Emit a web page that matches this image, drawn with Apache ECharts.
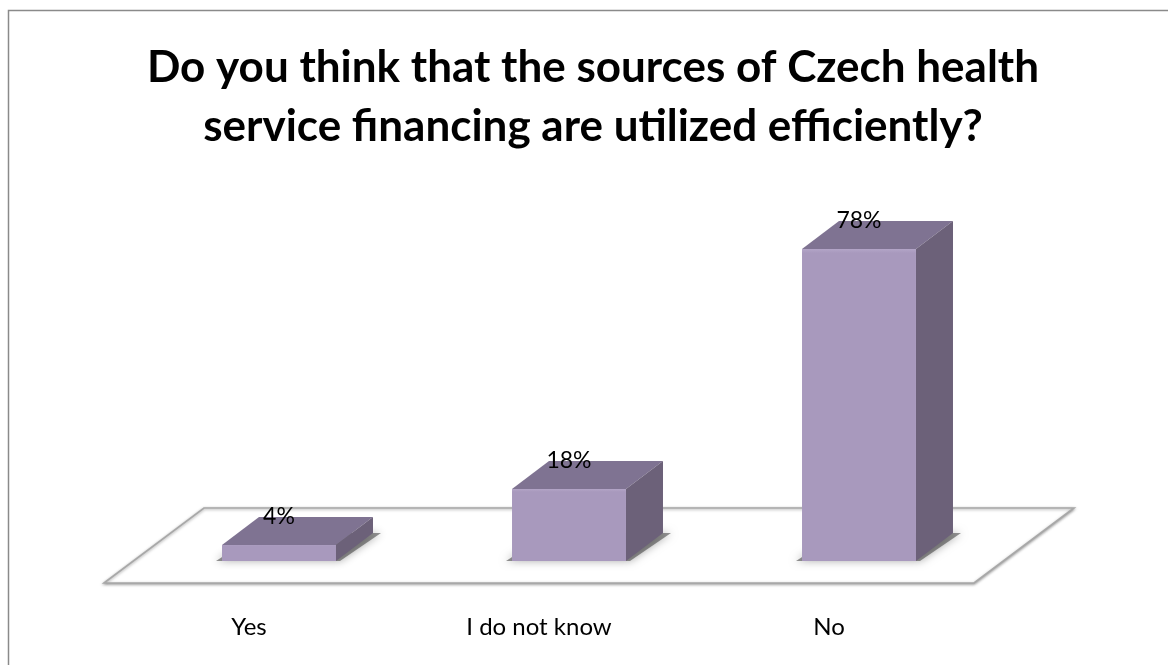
<!DOCTYPE html>
<html>
<head>
<meta charset="utf-8">
<style>
  html, body { margin: 0; padding: 0; background: #ffffff; }
  #chart { width: 1168px; height: 665px; }
</style>
<script src="https://cdn.jsdelivr.net/npm/echarts@6/dist/echarts.min.js"></script>
</head>
<body>
<div id="chart"></div>
<script>
// Survey answers and their shares (percent of respondents)
const categories = ['Yes', 'I do not know', 'No'];
const shares = [4, 18, 78];
const titleLines = [
  'Do you think that the sources of Czech health',
  'service financing are utilized efficiently?'
];

// Pseudo-3D projection: offset of the bar's back face and of the floor edges
const BAR_DEPTH = [37, -28];
const FLOOR_FRONT = [-30, 22];
const FLOOR_BACK = [70, -53];
const BAR_RATIO = 0.393;

const COLOR_FRONT = '#a899bd';
const COLOR_TOP = '#7f7392';
const COLOR_SIDE = '#6c6179';

const chart = echarts.init(document.getElementById('chart'), null, { renderer: 'canvas' });

function renderFloor(params, api) {
  const n = categories.length;
  const band = api.size([1, 0])[0];
  const left = api.coord([0, 0])[0] - band / 2;
  const right = api.coord([n - 1, 0])[0] + band / 2;
  const y0 = api.coord([0, 0])[1];
  const pts = [
    [left + FLOOR_FRONT[0], y0 + FLOOR_FRONT[1]],
    [right + FLOOR_FRONT[0], y0 + FLOOR_FRONT[1]],
    [right + FLOOR_BACK[0], y0 + FLOOR_BACK[1]],
    [left + FLOOR_BACK[0], y0 + FLOOR_BACK[1]]
  ];
  return {
    type: 'polygon',
    shape: { points: pts },
    style: {
      fill: '#ffffff',
      stroke: '#a8a8a8',
      lineWidth: 1.6,
      shadowBlur: 3,
      shadowColor: 'rgba(0,0,0,0.35)',
      shadowOffsetY: 1
    },
    silent: true
  };
}

function renderBar(params, api) {
  const idx = api.value(0);
  const val = api.value(1);
  const base = api.coord([idx, 0]);
  const top = api.coord([idx, val]);
  const w = api.size([1, 0])[0] * BAR_RATIO;
  const x0 = base[0] - w / 2;
  const x1 = base[0] + w / 2;
  const yb = base[1];
  const yt = top[1];
  const dx = BAR_DEPTH[0];
  const dy = BAR_DEPTH[1];

  const children = [];
  // soft contact shadow around the base
  children.push({
    type: 'polygon',
    shape: { points: [[x0 - 6, yb], [x1 + 4, yb], [x1 + dx + 8, yb + dy], [x0 + dx, yb + dy]] },
    style: { fill: 'rgba(60,60,60,0.55)', shadowBlur: 9, shadowColor: 'rgba(0,0,0,0.6)' },
    silent: true
  });
  // top face
  children.push({
    type: 'polygon',
    shape: { points: [[x0, yt], [x1, yt], [x1 + dx, yt + dy], [x0 + dx, yt + dy]] },
    style: { fill: COLOR_TOP }
  });
  // side face
  children.push({
    type: 'polygon',
    shape: { points: [[x1, yt], [x1 + dx, yt + dy], [x1 + dx, yb + dy], [x1, yb]] },
    style: { fill: COLOR_SIDE }
  });
  // front face
  children.push({
    type: 'rect',
    shape: { x: x0, y: yt, width: w, height: yb - yt },
    style: {
      fill: {
        type: 'linear', x: 0, y: 0, x2: 0, y2: 1,
        colorStops: [
          { offset: 0, color: '#b3a5c7' },
          { offset: Math.min(0.04, 4 / Math.max(yb - yt, 1)), color: COLOR_FRONT },
          { offset: 1, color: COLOR_FRONT }
        ]
      }
    }
  });
  // value label at the back edge of the top face
  children.push({
    type: 'text',
    style: {
      x: base[0],
      y: yt + dy,
      text: val + '%',
      fill: '#000000',
      font: '23px Lato, "Open Sans", sans-serif',
      align: 'center',
      verticalAlign: 'middle'
    },
    silent: true
  });
  return { type: 'group', children: children };
}

const option = {
  animation: false,
  backgroundColor: '#ffffff',
  title: {
    text: titleLines.join('\n'),
    left: 588,
    top: 33,
    textAlign: 'center',
    textStyle: {
      fontFamily: 'Lato, "Open Sans", sans-serif',
      fontWeight: 'bold',
      fontSize: 44,
      lineHeight: 59,
      color: '#000000'
    }
  },
  graphic: [{
    type: 'rect',
    shape: { x: 8.5, y: 10.5, width: 1300, height: 800 },
    style: { fill: 'none', stroke: '#8a8a8a', lineWidth: 1.5 },
    silent: true,
    z: 100
  }],
  grid: { left: 134, right: 164, top: 161, bottom: 104 },
  xAxis: {
    type: 'category',
    data: categories,
    boundaryGap: true,
    axisLine: { show: false },
    axisTick: { show: false },
    axisLabel: {
      margin: 66,
      verticalAlign: 'middle',
      padding: [0, 60, 0, 0],
      color: '#000000',
      fontFamily: 'Lato, "Open Sans", sans-serif',
      fontSize: 24
    }
  },
  yAxis: {
    type: 'value',
    min: 0,
    max: 100,
    show: false,
    splitLine: { show: false }
  },
  series: [
    {
      type: 'custom',
      name: 'floor',
      renderItem: renderFloor,
      data: [[0, 0]],
      z: 1,
      silent: true
    },
    {
      type: 'custom',
      name: 'share',
      renderItem: renderBar,
      data: shares.map((v, i) => [i, v]),
      encode: { x: 0, y: 1 },
      z: 2
    }
  ]
};

chart.setOption(option);
</script>
</body>
</html>
